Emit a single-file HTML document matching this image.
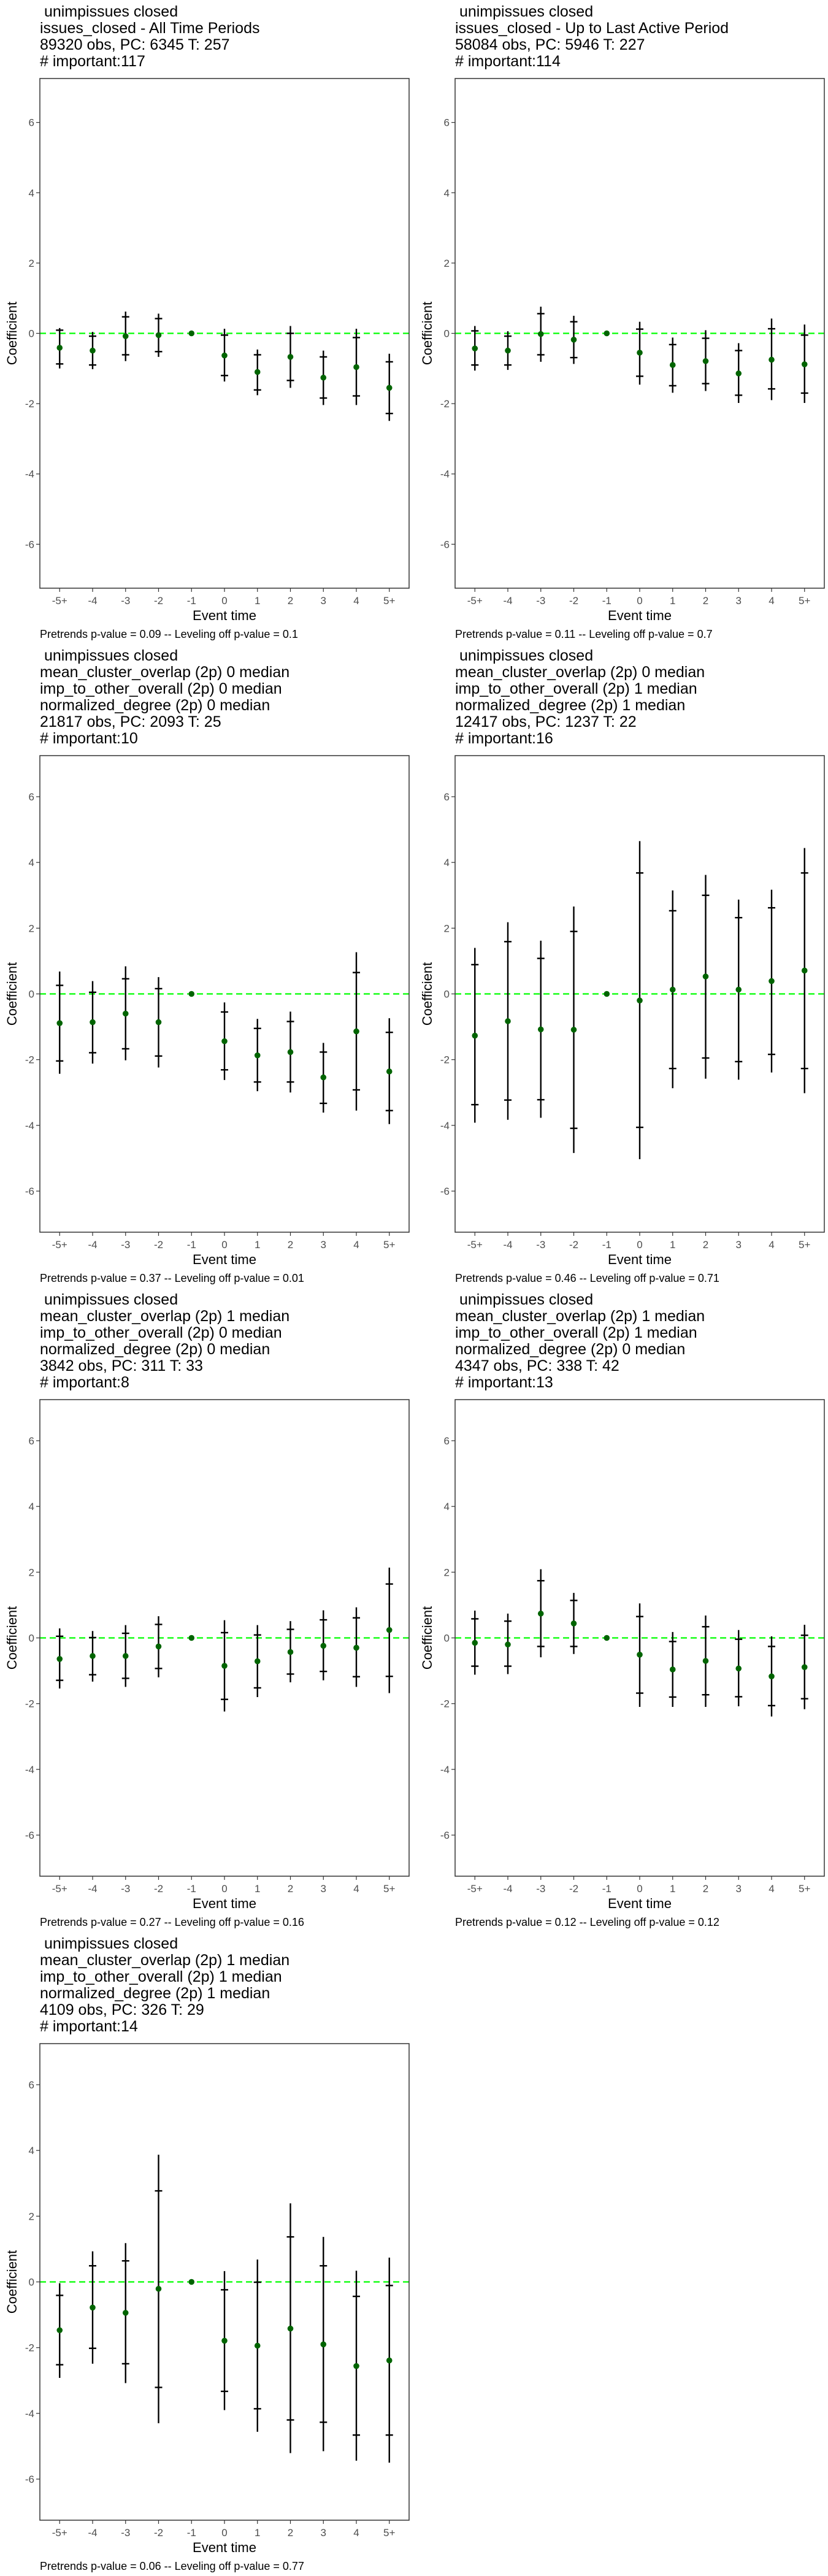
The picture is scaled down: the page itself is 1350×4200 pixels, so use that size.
<!DOCTYPE html>
<html><head><meta charset="utf-8">
<style>
html,body{margin:0;padding:0;background:#fff;}
#root{position:relative;width:1350px;height:4200px;overflow:hidden;font-family:"Liberation Sans",Arial,sans-serif;}
.title{position:absolute;font-size:25px;line-height:27px;color:#000;white-space:pre;}
.foot{position:absolute;font-size:18px;line-height:20px;color:#000;white-space:pre;}
svg{position:absolute;left:0;top:0;}
</style></head>
<body>
<div id="root">
<div class="title" style="left:65px;top:6px"> unimpissues closed
issues_closed - All Time Periods
89320 obs, PC: 6345 T: 257
# important:117</div>
<div class="title" style="left:742px;top:6px"> unimpissues closed
issues_closed - Up to Last Active Period
58084 obs, PC: 5946 T: 227
# important:114</div>
<div class="title" style="left:65px;top:1056px"> unimpissues closed
mean_cluster_overlap (2p) 0 median
imp_to_other_overall (2p) 0 median
normalized_degree (2p) 0 median
21817 obs, PC: 2093 T: 25
# important:10</div>
<div class="title" style="left:742px;top:1056px"> unimpissues closed
mean_cluster_overlap (2p) 0 median
imp_to_other_overall (2p) 1 median
normalized_degree (2p) 1 median
12417 obs, PC: 1237 T: 22
# important:16</div>
<div class="title" style="left:65px;top:2106px"> unimpissues closed
mean_cluster_overlap (2p) 1 median
imp_to_other_overall (2p) 0 median
normalized_degree (2p) 0 median
3842 obs, PC: 311 T: 33
# important:8</div>
<div class="title" style="left:742px;top:2106px"> unimpissues closed
mean_cluster_overlap (2p) 1 median
imp_to_other_overall (2p) 1 median
normalized_degree (2p) 0 median
4347 obs, PC: 338 T: 42
# important:13</div>
<div class="title" style="left:65px;top:3156px"> unimpissues closed
mean_cluster_overlap (2p) 1 median
imp_to_other_overall (2p) 1 median
normalized_degree (2p) 1 median
4109 obs, PC: 326 T: 29
# important:14</div>

<div class="foot" style="left:65px;top:1024px">Pretrends p-value = 0.09 -- Leveling off p-value = 0.1</div>
<div class="foot" style="left:742px;top:1024px">Pretrends p-value = 0.11 -- Leveling off p-value = 0.7</div>
<div class="foot" style="left:65px;top:2074px">Pretrends p-value = 0.37 -- Leveling off p-value = 0.01</div>
<div class="foot" style="left:742px;top:2074px">Pretrends p-value = 0.46 -- Leveling off p-value = 0.71</div>
<div class="foot" style="left:65px;top:3124px">Pretrends p-value = 0.27 -- Leveling off p-value = 0.16</div>
<div class="foot" style="left:742px;top:3124px">Pretrends p-value = 0.12 -- Leveling off p-value = 0.12</div>
<div class="foot" style="left:65px;top:4174px">Pretrends p-value = 0.06 -- Leveling off p-value = 0.77</div>

<svg id="chart" width="1350" height="4200" xmlns="http://www.w3.org/2000/svg"></svg>
</div>
<script>
const categories = ["-5+","-4","-3","-2","-1","0","1","2","3","4","5+"];
const yTicks = [-6,-4,-2,0,2,4,6];
const estimates = [
  [-0.41,-0.49,-0.08,-0.05,0,-0.63,-1.10,-0.67,-1.26,-0.96,-1.55],
  [-0.43,-0.49,-0.02,-0.18,0,-0.55,-0.90,-0.79,-1.14,-0.75,-0.88],
  [-0.89,-0.86,-0.60,-0.86,0,-1.44,-1.87,-1.77,-2.54,-1.14,-2.36],
  [-1.27,-0.83,-1.08,-1.09,0,-0.20,0.13,0.53,0.13,0.39,0.71],
  [-0.64,-0.55,-0.55,-0.26,0,-0.85,-0.71,-0.43,-0.24,-0.30,0.24],
  [-0.15,-0.20,0.74,0.44,0,-0.51,-0.96,-0.70,-0.93,-1.17,-0.89],
  [-1.47,-0.78,-0.94,-0.21,0,-1.79,-1.94,-1.42,-1.90,-2.56,-2.39]
];
const innerHi = [
  [0.09,-0.08,0.47,0.42,null,-0.05,-0.61,0.00,-0.67,-0.12,-0.81],
  [0.07,-0.08,0.56,0.33,null,0.12,-0.32,-0.14,-0.49,0.13,-0.05],
  [0.26,0.05,0.46,0.16,null,-0.55,-1.05,-0.84,-1.77,0.65,-1.17],
  [0.89,1.59,1.08,1.90,null,3.68,2.53,3.00,2.32,2.62,3.68],
  [0.05,0.01,0.14,0.41,null,0.16,0.09,0.26,0.55,0.61,1.64],
  [0.58,0.51,1.74,1.14,null,0.65,-0.11,0.34,-0.04,-0.26,0.08],
  [-0.41,0.49,0.64,2.77,null,-0.24,-0.01,1.37,0.49,-0.44,-0.11]
];
const innerLo = [
  [-0.87,-0.90,-0.61,-0.52,null,-1.20,-1.61,-1.34,-1.84,-1.78,-2.28],
  [-0.90,-0.90,-0.61,-0.69,null,-1.22,-1.49,-1.43,-1.76,-1.58,-1.70],
  [-2.04,-1.79,-1.67,-1.89,null,-2.31,-2.68,-2.68,-3.33,-2.92,-3.55],
  [-3.37,-3.23,-3.22,-4.09,null,-4.06,-2.27,-1.95,-2.06,-1.84,-2.27],
  [-1.29,-1.12,-1.23,-0.93,null,-1.87,-1.52,-1.10,-1.02,-1.18,-1.17],
  [-0.86,-0.86,-0.26,-0.26,null,-1.68,-1.80,-1.73,-1.79,-2.06,-1.85],
  [-2.52,-2.02,-2.49,-3.21,null,-3.33,-3.86,-4.20,-4.27,-4.66,-4.66]
];
const outerHi = [
  [0.15,0.04,0.62,0.56,null,0.13,-0.46,0.21,-0.49,0.13,-0.58],
  [0.21,0.06,0.76,0.50,null,0.33,-0.12,0.09,-0.28,0.42,0.25],
  [0.68,0.39,0.84,0.51,null,-0.26,-0.76,-0.54,-1.49,1.27,-0.74],
  [1.40,2.18,1.62,2.66,null,4.65,3.15,3.62,2.87,3.17,4.44],
  [0.29,0.21,0.39,0.66,null,0.54,0.39,0.51,0.84,0.93,2.14],
  [0.83,0.74,2.09,1.37,null,1.05,0.18,0.68,0.24,0.05,0.40],
  [-0.04,0.93,1.18,3.87,null,0.33,0.68,2.39,1.37,0.34,0.74]
];
const outerLo = [
  [-1.00,-1.02,-0.79,-0.67,null,-1.37,-1.76,-1.55,-2.04,-2.04,-2.49],
  [-1.06,-1.04,-0.81,-0.87,null,-1.46,-1.69,-1.64,-1.98,-1.90,-1.98],
  [-2.43,-2.12,-2.02,-2.24,null,-2.62,-2.96,-3.00,-3.61,-3.55,-3.96],
  [-3.92,-3.83,-3.77,-4.84,null,-5.03,-2.87,-2.58,-2.61,-2.39,-3.02],
  [-1.54,-1.33,-1.49,-1.20,null,-2.24,-1.80,-1.35,-1.29,-1.49,-1.68],
  [-1.12,-1.10,-0.59,-0.49,null,-2.10,-2.10,-2.10,-2.08,-2.39,-2.17],
  [-2.92,-2.49,-3.08,-4.30,null,-3.90,-4.56,-5.21,-5.15,-5.44,-5.50]
];
const yDomain = [-7.25, 7.25];

const NS = "http://www.w3.org/2000/svg";
const svg = document.getElementById("chart");
function mk(tag, attrs, parent){
  const e = document.createElementNS(NS, tag);
  for (const k in attrs) e.setAttribute(k, attrs[k]);
  (parent||svg).appendChild(e);
  return e;
}

for (let p = 0; p < estimates.length; p++){
  const col = p % 2, row = Math.floor(p/2);
  const left = col === 0 ? 65 : 742;
  const width = 602;
  const top = row*1050 + (row === 0 ? 128 : 182);
  const bottom = row*1050 + 959;
  const xScale = i => left + (i + 0.6) / (categories.length - 1 + 1.2) * width;
  const yScale = v => top + (yDomain[1] - v) / (yDomain[1] - yDomain[0]) * (bottom - top);

  const g = mk("g", {});
  
  

  // y ticks
  yTicks.forEach(t => {
    const y = yScale(t);
    const tk = mk("line", {x1:left-6, x2:left, y1:y, y2:y, stroke:"#333", "stroke-width":1.2}, g);
    
    
    const lb = mk("text", {x:left-9, y:y+6, "text-anchor":"end", "font-size":17, fill:"#4d4d4d", "font-family":"Liberation Sans, Arial, sans-serif"}, g);
    lb.textContent = String(t);
    
    
  });
  // x ticks
  categories.forEach((c, i) => {
    const x = xScale(i);
    const tk = mk("line", {x1:x, x2:x, y1:bottom, y2:bottom+6, stroke:"#333", "stroke-width":1.2}, g);
    
    
    const lb = mk("text", {x:x, y:bottom+26, "text-anchor":"middle", "font-size":17, fill:"#4d4d4d", "font-family":"Liberation Sans, Arial, sans-serif"}, g);
    lb.textContent = c;
    
    
  });
  // axis titles
  const xt = mk("text", {x:left+width/2, y:bottom+52, "text-anchor":"middle", "font-size":22, fill:"#000", "font-family":"Liberation Sans, Arial, sans-serif"}, g);
  xt.textContent = "Event time";
  
  
  const ycy = (top+bottom)/2;
  const yt = mk("text", {x:left-38, y:ycy, "text-anchor":"middle", "font-size":22, fill:"#000", transform:"rotate(-90 "+(left-38)+" "+ycy+")", "font-family":"Liberation Sans, Arial, sans-serif"}, g);
  yt.textContent = "Coefficient";
  
  

  // zero reference line
  const zl = mk("line", {x1:left, x2:left+width, y1:yScale(0), y2:yScale(0), stroke:"#00ff00", "stroke-width":2.2, "stroke-dasharray":"10 6"}, g);
  
  

  // error bars and points
  for (let i = 0; i < categories.length; i++){
    const x = xScale(i);
    if (outerHi[p][i] !== null){
      const ln = mk("line", {x1:x, x2:x, y1:yScale(outerHi[p][i]), y2:yScale(outerLo[p][i]), stroke:"#000", "stroke-width":2.4}, g);
      
      
      [innerHi[p][i], innerLo[p][i]].forEach(v => {
        const cb = mk("line", {x1:x-6, x2:x+6, y1:yScale(v), y2:yScale(v), stroke:"#000", "stroke-width":2.4}, g);
        
        
      });
    }
    const pt = mk("ellipse", {cx:x, cy:yScale(estimates[p][i]), rx:4.8, ry:4.8, fill:"#006400"}, g);
    
    
  }

  // panel border
  const bd = mk("rect", {x:left, y:top, width:width, height:bottom-top, fill:"none", stroke:"#333", "stroke-width":1.5}, g);
  
  
}
</script>
</body></html>
